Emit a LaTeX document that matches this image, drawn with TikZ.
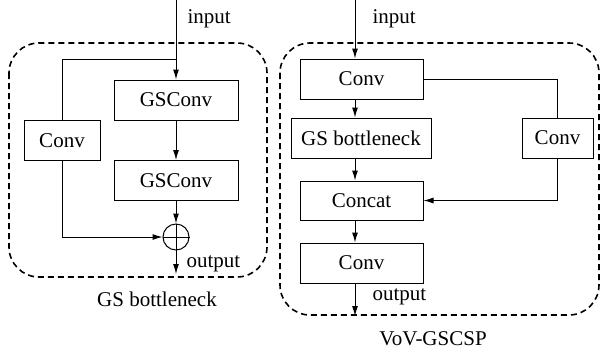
\documentclass[tikz,border=0pt]{standalone}
\usepackage{fontspec}
\setmainfont{Liberation Serif}
\usetikzlibrary{arrows.meta}

\begin{document}
\begin{tikzpicture}[x=0.5pt, y=-0.5pt, line width=0.5pt,
		font=\fontsize{10.5}{12}\selectfont,
		box/.style={draw, rectangle, inner sep=0pt, minimum height=20pt},
		frame/.style={dashed, dash pattern=on 3pt off 2pt, line width=0.8pt, rounded corners=15pt},
		flow/.style={-{Latex[length=5pt,width=3pt]}},
		txt/.style={inner sep=0pt}]
		\useasboundingbox (0,0) rectangle (601,350);
		\draw[frame] (9,43) rectangle (267,277);
		\draw[frame] (280,43) rectangle (599,315);
		\node[box, minimum width=62pt] (gsA) at (176,100) {GSConv};
		\node[box, minimum width=62pt] (gsB) at (176,180.5) {GSConv};
		\node[box, minimum width=38pt] (convL) at (62,140.5) {Conv};
		\node[draw, circle, minimum size=13pt, inner sep=0pt] (sum) at (176,237) {};
		\draw (sum.north) -- (sum.south) (sum.west) -- (sum.east);
		\coordinate (inA) at (176,0);
		\coordinate (outA) at (176,274);
		\coordinate (split) at (176,59);
		\draw[flow] (inA) -- (gsA);
		\draw[flow] (gsA) -- (gsB);
		\draw[flow] (gsB) -- (sum);
		\draw (convL.north) |- (split);
		\draw[flow] (convL.south) |- (sum.west);
		\draw[flow] (sum) -- (outA);
		\node[txt, anchor=west] (inTxtA) at (187,19) {input};
		\node[txt, anchor=west] (outTxtA) at (186,264) {output};
		\node[txt] (nameA) at (157,299) {GS bottleneck};
		\node[box, minimum width=61.5pt] (c1) at (361.5,79) {Conv};
		\node[box, minimum width=70pt] (gsb) at (361,138) {GS bottleneck};
		\node[box, minimum width=61.5pt, minimum height=19.5pt] (cat) at (361.5,200.5) {Concat};
		\node[box, minimum width=61.5pt] (c2) at (361.5,263) {Conv};
		\node[box, minimum width=35.5pt] (cR) at (557.5,138) {Conv};
		\coordinate (inB) at (355,0);
		\coordinate (outB) at (355,316);
		\draw[flow] (inB) -- (inB |- c1.north);
		\draw[flow] ([xshift=-3.25pt]c1.south) -- ([xshift=-3.25pt]c1.south |- gsb.north);
		\draw[flow] ([xshift=-3.25pt]c1.south |- gsb.south) -- ([xshift=-3.25pt]cat.north);
		\draw[flow] ([xshift=-3.25pt]cat.south) -- ([xshift=-3.25pt]c2.north);
		\draw[flow] ([xshift=-3.25pt]c2.south) -- (outB);
		\draw (c1.east) -| (cR.north);
		\draw[flow] (cR.south) |- (cat.east);
		\node[txt, anchor=west] (inTxtB) at (372,19) {input};
		\node[txt, anchor=west] (outTxtB) at (372,297) {output};
		\node[txt] (nameB) at (433,339) {VoV-GSCSP};
\end{tikzpicture}
\end{document}
